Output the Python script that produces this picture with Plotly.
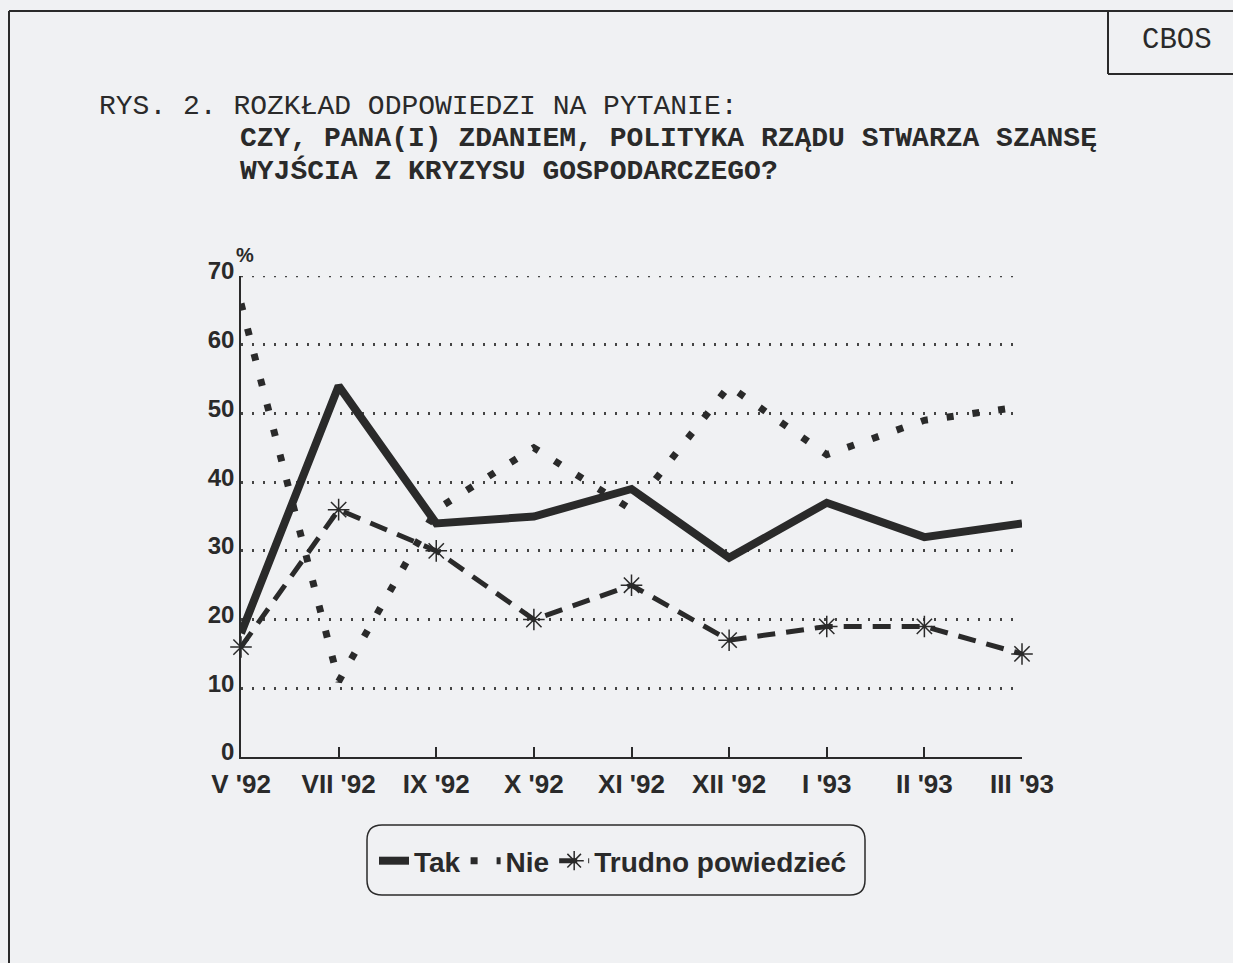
import plotly.graph_objects as go

categories = ["V '92", "VII '92", "IX '92", "X '92", "XI '92", "XII '92", "I '93", "II '93", "III '93"]
tak = [18, 54, 34, 35, 39, 29, 37, 32, 34]
nie = [66, 11, 36, 45, 36, 54, 44, 49, 51]
trudno = [16, 36, 30, 20, 25, 17, 19, 19, 15]
y_ticks = [0, 10, 20, 30, 40, 50, 60, 70]

W, H = 1233, 963
L, R, T, B = 241, 211, 276, 206
PW, PH = W - L - R, H - T - B

def px(x):
    return (x - L) / PW

def py(y):
    return (H - B - y) / PH

INK = "#2a2a2a"
BG = "#f0f1f3"
xs = list(range(len(categories)))

fig = go.Figure()
fig.add_trace(go.Scatter(x=xs, y=tak, name="Tak", mode="lines",
                         line=dict(color=INK, width=8), cliponaxis=False))
fig.add_trace(go.Scatter(x=xs, y=nie, name="Nie", mode="lines",
                         line=dict(color=INK, width=7, dash="7px,19px"), cliponaxis=False))
fig.add_trace(go.Scatter(x=xs, y=trudno, name="Trudno powiedzieć", mode="lines+markers",
                         line=dict(color=INK, width=5, dash="18px,11px"),
                         marker=dict(symbol="asterisk-open", size=18,
                                     line=dict(color=INK, width=1.5)),
                         cliponaxis=False))

fig.update_layout(
    width=W, height=H,
    margin=dict(l=L, r=R, t=T, b=B, pad=0),
    paper_bgcolor=BG, plot_bgcolor=BG,
    font=dict(family="Liberation Sans, Arial, sans-serif", color=INK),
    showlegend=True,
    legend=dict(orientation="h", x=px(613), xanchor="center", y=py(861), yanchor="middle",
                bgcolor="rgba(0,0,0,0)", borderwidth=0,
                font=dict(size=28, weight="bold", color=INK),
                itemwidth=30, tracegroupgap=0),
    xaxis=dict(range=[0, len(categories) - 1], tickmode="array", tickvals=xs,
               ticktext=categories, showgrid=False, zeroline=False,
               showline=True, linecolor=INK, linewidth=1.5,
               ticks="inside", ticklen=10, tickwidth=1.5, tickcolor=INK,
               ticklabelstandoff=3,
               tickfont=dict(size=26, weight="bold", color=INK)),
    yaxis=dict(range=[0, 70], tickmode="array", tickvals=y_ticks,
               showgrid=True, gridcolor="#444", gridwidth=2.5, griddash="2px,9px",
               zeroline=False, showline=True, linecolor=INK, linewidth=1.5,
               ticks="", ticklabelshift=-5,
               tickfont=dict(size=24, weight="bold", color=INK)),
)

shapes = []
# top gridline (hidden by plotly at the range edge)
shapes.append(dict(type="line", xref="x", yref="y", x0=0, x1=len(categories) - 1,
                   y0=y_ticks[-1], y1=y_ticks[-1],
                   line=dict(color="#444", width=2.5, dash="2px,9px")))
# page border (left and top)
shapes.append(dict(type="line", xref="paper", yref="paper", x0=px(9), x1=px(1240),
                   y0=py(11), y1=py(11), line=dict(color=INK, width=2)))
shapes.append(dict(type="line", xref="paper", yref="paper", x0=px(9), x1=px(9),
                   y0=py(11), y1=py(975), line=dict(color=INK, width=2)))
# CBOS box
shapes.append(dict(type="line", xref="paper", yref="paper", x0=px(1108), x1=px(1108),
                   y0=py(11), y1=py(74), line=dict(color=INK, width=2)))
shapes.append(dict(type="line", xref="paper", yref="paper", x0=px(1108), x1=px(1240),
                   y0=py(74), y1=py(74), line=dict(color=INK, width=2)))
# rounded legend box
x0, x1, y0, y1, r = 367, 865, 825, 895, 15
pts = [
    ("M", x0 + r, y0), ("L", x1 - r, y0), ("Q", x1, y0, x1, y0 + r),
    ("L", x1, y1 - r), ("Q", x1, y1, x1 - r, y1), ("L", x0 + r, y1),
    ("Q", x0, y1, x0, y1 - r), ("L", x0, y0 + r), ("Q", x0, y0, x0 + r, y0),
]
path = ""
for p in pts:
    cmd = p[0]
    coords = p[1:]
    parts = []
    for i in range(0, len(coords), 2):
        parts.append(f"{px(coords[i]):.5f},{py(coords[i+1]):.5f}")
    path += cmd + " " + " ".join(parts) + " "
path += "Z"
shapes.append(dict(type="path", xref="paper", yref="paper", path=path,
                   line=dict(color=INK, width=1.5)))
fig.update_layout(shapes=shapes)

mono = "Courier New, Liberation Mono, monospace"
ann = [
    dict(text="CBOS", x=px(1177), y=py(41), font=dict(family=mono, size=29, color=INK),
         xanchor="center", yanchor="middle"),
    dict(text="RYS. 2. ROZKŁAD ODPOWIEDZI NA PYTANIE:", x=px(97), y=py(106),
         font=dict(family=mono, size=28, color=INK), xanchor="left", yanchor="middle"),
    dict(text="CZY, PANA(I) ZDANIEM, POLITYKA RZĄDU STWARZA SZANSĘ", x=px(238), y=py(138),
         font=dict(family=mono, size=28, color=INK, weight="bold"), xanchor="left", yanchor="middle"),
    dict(text="WYJŚCIA Z KRYZYSU GOSPODARCZEGO?", x=px(238), y=py(171),
         font=dict(family=mono, size=28, color=INK, weight="bold"), xanchor="left", yanchor="middle"),
    dict(text="%", x=px(245), y=py(255), font=dict(size=20, weight="bold", color=INK),
         xanchor="center", yanchor="middle"),
]
for a in ann:
    a.update(xref="paper", yref="paper", showarrow=False)
fig.update_layout(annotations=ann)

fig.write_html("out.html",
               config={"displayModeBar": False},
               post_script="document.documentElement.style.margin='0';"
                           "document.body.style.margin='0';"
                           "document.body.style.overflow='hidden';")
